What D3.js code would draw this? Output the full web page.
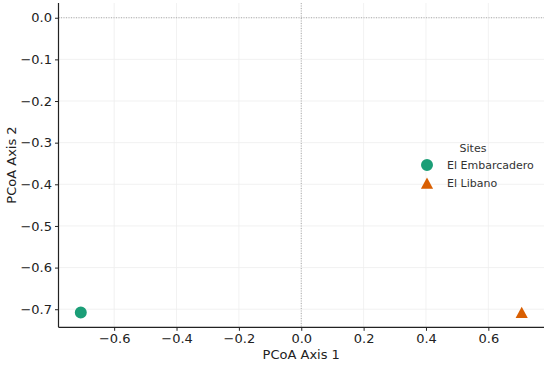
<!DOCTYPE html>
<html>
<head>
<meta charset="utf-8">
<script src="https://cdn.jsdelivr.net/npm/d3@7"></script>
<style>
  body { margin: 0; background: #fff; }
  svg { display: block; font-family: "DejaVu Sans", sans-serif; }
</style>
</head>
<body>
<script>
// data
var sites = ["El Embarcadero", "El Libano"];
var axis1 = [-0.707, 0.707];
var axis2 = [-0.708, -0.708];
var colours = ["#1b9e77", "#d95f02"];
var xTicks = [-0.6, -0.4, -0.2, 0.0, 0.2, 0.4, 0.6];
var yTicks = [0.0, -0.1, -0.2, -0.3, -0.4, -0.5, -0.6, -0.7];

var width = 550, height = 365;
var margin = {left: 58.5, right: 6, top: 3, bottom: 37.7};

var svg = d3.select("body").append("svg")
  .attr("width", width)
  .attr("height", height);

var x = d3.scaleLinear()
  .domain([-0.7785, 0.7785])
  .range([margin.left, width - margin.right]);

var y = d3.scaleLinear()
  .domain([-0.7434, 0.0354])
  .range([height - margin.bottom, margin.top]);

var fmt = function(d) { return d3.format(".1f")(d).replace("-", "\u2212"); };

// matplotlib style "^" marker, centred at mid height
var triUp = {
  draw: function(context, size) {
    var r = Math.sqrt(size) / 2;
    context.moveTo(0, -r * 0.95);
    context.lineTo(r, r * 0.9);
    context.lineTo(-r, r * 0.9);
    context.closePath();
  }
};

// grid
svg.append("g").selectAll("line.gx")
  .data(xTicks)
  .enter().append("line")
    .attr("x1", function(d) { return x(d); })
    .attr("x2", function(d) { return x(d); })
    .attr("y1", margin.top)
    .attr("y2", height - margin.bottom)
    .attr("stroke", "#ededed")
    .attr("stroke-width", 0.8);

svg.append("g").selectAll("line.gy")
  .data(yTicks)
  .enter().append("line")
    .attr("y1", function(d) { return y(d); })
    .attr("y2", function(d) { return y(d); })
    .attr("x1", margin.left)
    .attr("x2", width - margin.right)
    .attr("stroke", "#ededed")
    .attr("stroke-width", 0.8);

// zero lines
svg.append("line")
  .attr("x1", margin.left).attr("x2", width - margin.right)
  .attr("y1", y(0)).attr("y2", y(0))
  .attr("stroke", "#999").attr("stroke-width", 0.8)
  .attr("stroke-dasharray", "1,1.5");

svg.append("line")
  .attr("x1", x(0)).attr("x2", x(0))
  .attr("y1", margin.top).attr("y2", height - margin.bottom)
  .attr("stroke", "#999").attr("stroke-width", 0.8)
  .attr("stroke-dasharray", "1,1.5");

// axes
var xAxis = svg.append("g")
  .attr("transform", "translate(0," + (height - margin.bottom) + ")")
  .call(d3.axisBottom(x).tickValues(xTicks).tickFormat(fmt).tickSize(3.5).tickPadding(3));

var yAxis = svg.append("g")
  .attr("transform", "translate(" + margin.left + ",0)")
  .call(d3.axisLeft(y).tickValues(yTicks).tickFormat(fmt).tickSize(3.5).tickPadding(3));

[xAxis, yAxis].forEach(function(a) {
  a.select(".domain").attr("stroke", "#222").attr("stroke-width", 1.2);
  a.selectAll(".tick line").attr("stroke", "#222");
  a.selectAll(".tick text")
    .attr("fill", "#222")
    .style("font-size", "13px")
    .style("font-family", "DejaVu Sans");
});
xAxis.select(".domain").attr("d", "M" + margin.left + ",0H" + (width - margin.right));
yAxis.select(".domain").attr("d", "M0," + (height - margin.bottom) + "V" + margin.top);

// axis labels
svg.append("text")
  .attr("x", x(0))
  .attr("y", 359)
  .attr("text-anchor", "middle")
  .attr("fill", "#222")
  .style("font-size", "13px")
  .text("PCoA Axis 1");

svg.append("text")
  .attr("transform", "translate(16," + 165 + ") rotate(-90)")
  .attr("text-anchor", "middle")
  .attr("fill", "#222")
  .style("font-size", "13px")
  .text("PCoA Axis 2");

// points
var circle = d3.symbol().type(d3.symbolCircle).size(113);
var tri = d3.symbol().type(triUp).size(148);
var shapes = [circle, tri];

svg.append("g").selectAll("path")
  .data(sites)
  .enter().append("path")
    .attr("d", function(d, i) { return shapes[i](); })
    .attr("transform", function(d, i) {
      return "translate(" + x(axis1[i]) + "," + y(axis2[i]) + ")";
    })
    .attr("fill", function(d, i) { return colours[i]; });

// legend
var legend = svg.append("g");
legend.append("text")
  .attr("x", 473).attr("y", 152)
  .attr("text-anchor", "middle")
  .attr("fill", "#333")
  .style("font-size", "11px")
  .text("Sites");

var items = legend.selectAll("g.item")
  .data(sites)
  .enter().append("g")
    .attr("transform", function(d, i) { return "translate(427," + (165 + i * 18.3) + ")"; });

items.append("path")
  .attr("d", function(d, i) { return shapes[i](); })
  .attr("fill", function(d, i) { return colours[i]; });

items.append("text")
  .attr("x", 20)
  .attr("dy", "0.35em")
  .attr("fill", "#333")
  .style("font-size", "11px")
  .text(function(d) { return d; });
</script>
</body>
</html>
